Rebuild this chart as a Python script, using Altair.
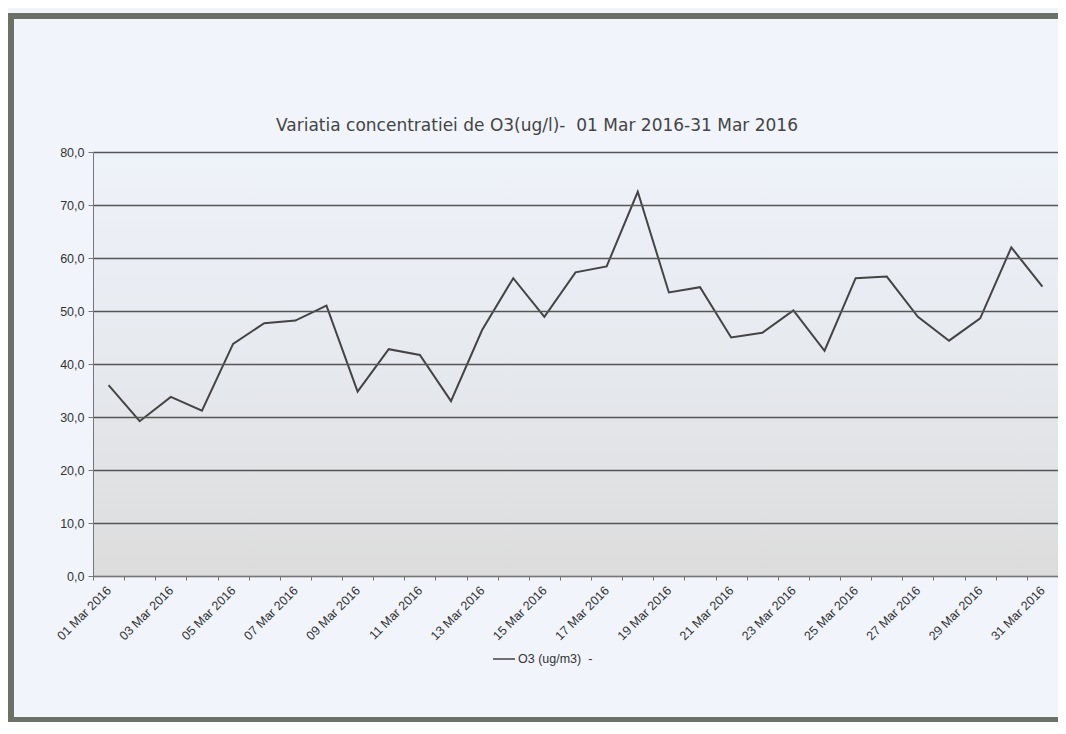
import json
import altair as alt
import pandas as pd

# ---- data ----
dates = [f"{d:02d} Mar 2016" for d in range(1, 32)]
o3_values = [36.0, 29.2, 33.8, 31.2, 43.8, 47.7, 48.2, 51.0, 34.8, 42.8,
             41.7, 33.0, 46.4, 56.2, 48.9, 57.3, 58.4, 72.5, 53.5, 54.5,
             45.0, 45.9, 50.1, 42.5, 56.2, 56.5, 48.9, 44.4, 48.6, 62.0, 54.6]
series_name = "O3 (ug/m3)\u00a0 -"
title_text = "Variatia concentratiei de O3(ug/l)-\u00a0 01 Mar 2016-31 Mar 2016"
y_ticks = [0, 10, 20, 30, 40, 50, 60, 70, 80]

df = pd.DataFrame({
    "day": list(range(1, len(dates) + 1)),
    "label": dates,
    "o3": o3_values,
    "series": [series_name] * len(dates),
})

W, H = 965, 424
band = W / len(dates)
tick_positions = [i + 0.5 for i in range(len(dates) + 1)]
labels_js = json.dumps(dates).replace('"', "'")
x_label_expr = (
    f"(round(datum.value + 0.5) % 2 == 1 && datum.value < {len(dates)}) ? "
    f"{labels_js}[round(datum.value - 0.5)] : ''"
)

FRAME = "#6b7068"
one = pd.DataFrame({"a": [0]})

bg = alt.Chart(one).mark_rect(
    color=alt.LinearGradient(
        gradient="linear", x1=0, y1=0, x2=0, y2=1,
        stops=[alt.GradientStop(color="#eef2f9", offset=0),
               alt.GradientStop(color="#e6e9ee", offset=0.5),
               alt.GradientStop(color="#dcdcdc", offset=1)],
    )
).encode(x=alt.value(0), x2=alt.value("width"), y=alt.value(0), y2=alt.value("height"))

frame_left = alt.Chart(one).mark_rect(color=FRAME).encode(
    x=alt.value(-86), x2=alt.value(-79), y=alt.value(-139), y2=alt.value(570))
frame_top = alt.Chart(one).mark_rect(color=FRAME).encode(
    x=alt.value(-86), x2=alt.value(W), y=alt.value(-139), y2=alt.value(-133))
frame_bottom = alt.Chart(one).mark_rect(color=FRAME).encode(
    x=alt.value(-86), x2=alt.value(W), y=alt.value(565), y2=alt.value(570))

title = alt.Chart(one).mark_text(
    text=title_text, font="DejaVu Sans", fontSize=17,
    color="#444444", align="center", baseline="middle",
).encode(x=alt.value(444), y=alt.value(-26))

line = alt.Chart(df).mark_line(strokeWidth=2).encode(
    x=alt.X("day:Q",
            scale=alt.Scale(domain=[0.5, len(dates) + 0.5], nice=False, zero=False),
            axis=alt.Axis(values=tick_positions, labelExpr=x_label_expr,
                          labelOffset=band / 2, labelAngle=315, labelAlign="right",
                          labelBaseline="middle", labelPadding=8, labelOverlap=False,
                          labelFont="Liberation Sans", labelFontSize=12.5,
                          labelColor="#333333", tickSize=4, tickColor="#777777",
                          domainColor="#777777", grid=False, title=None, zindex=1)),
    y=alt.Y("o3:Q",
            scale=alt.Scale(domain=[0, 80], nice=False),
            axis=alt.Axis(values=y_ticks,
                          labelExpr="replace(format(datum.value, '.1f'), '.', ',')",
                          labelFont="Liberation Sans", labelFontSize=12.5,
                          labelColor="#333333", labelPadding=4,
                          tickSize=5, tickColor="#777777", domainColor="#777777",
                          grid=True, gridColor="#555555", gridWidth=1.3,
                          title=None, zindex=1)),
    color=alt.Color("series:N",
                    scale=alt.Scale(range=["#444444"]),
                    legend=alt.Legend(orient="none", legendX=399, legendY=495,
                                      title=None, symbolType="stroke",
                                      symbolSize=484, symbolStrokeWidth=1.5,
                                      labelFont="Liberation Sans", labelFontSize=12.5,
                                      labelColor="#333333", labelOffset=2)),
)

chart = alt.layer(bg, frame_left, frame_top, frame_bottom, title, line).properties(
    width=W, height=H,
    autosize=alt.AutoSizeParams(type="none"),
    padding={"left": 85, "top": 144, "right": 0, "bottom": 146},
    background="#f1f4fb",
).configure_view(stroke="transparent")

chart.save("out.html", embed_options={"renderer": "svg", "actions": False})
